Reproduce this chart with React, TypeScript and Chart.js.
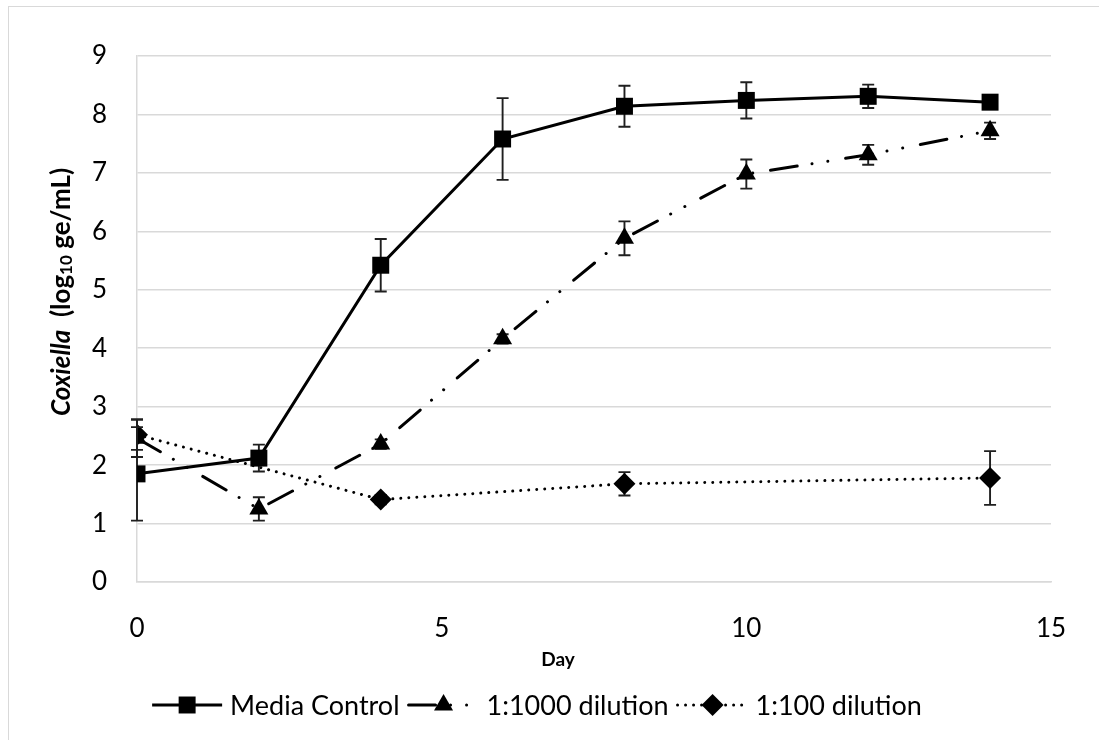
import React, { useEffect, useRef } from "react";
import { Chart, registerables } from "chart.js";

Chart.register(...registerables);

const days = [0, 2, 4, 6, 8, 10, 12, 14];
const mediaControl = [1.85, 2.12, 5.42, 7.58, 8.14, 8.24, 8.31, 8.21];
const mediaControlErr = [0.8, 0.23, 0.45, 0.7, 0.35, 0.31, 0.2, 0.04];
const dil1000 = [2.46, 1.25, 2.36, 4.16, 5.88, 6.98, 7.31, 7.72];
const dil1000Err = [0.32, 0.2, 0.08, 0.08, 0.29, 0.25, 0.17, 0.14];
const dil100Days = [0, 4, 8, 14];
const dil100 = [2.52, 1.41, 1.68, 1.78];
const dil100Err = [0.26, 0.08, 0.2, 0.46];
const seriesLabels = ["Media Control", "1:1000 dilution", "1:100 dilution"];
const xTitle = "Day";
const yTitleItalic = "Coxiella";
const yTitleRest = ["  (log", "10", " ge/mL)"];

const FONT = "Lato";

function toPoints(xs: number[], ys: number[]) {
  return xs.map((x, i) => ({ x, y: ys[i] }));
}

function drawMarker(ctx: CanvasRenderingContext2D, style: string, x: number, y: number, r: number) {
  ctx.beginPath();
  if (style === "rect") {
    const s = Math.SQRT1_2 * r;
    ctx.rect(x - s, y - s, 2 * s, 2 * s);
  } else if (style === "triangle") {
    ctx.moveTo(x, y - r);
    ctx.lineTo(x + 0.866 * r, y + 0.5 * r);
    ctx.lineTo(x - 0.866 * r, y + 0.5 * r);
    ctx.closePath();
  } else {
    ctx.moveTo(x - r, y);
    ctx.lineTo(x, y - r);
    ctx.lineTo(x + r, y);
    ctx.lineTo(x, y + r);
    ctx.closePath();
  }
  ctx.fill();
}

const errorBarPlugin = {
  id: "errorBars",
  beforeDatasetDraw(chart: any, args: any) {
    const ds = chart.data.datasets[args.index];
    const errs: number[] = ds.errors;
    if (!errs) return;
    const ctx = chart.ctx;
    const xs = chart.scales.x;
    const ys = chart.scales.y;
    ctx.save();
    ctx.strokeStyle = "#1f1f1f";
    ctx.lineWidth = 1.9;
    ds.data.forEach((p: any, i: number) => {
      const e = errs[i];
      if (!e) return;
      const px = xs.getPixelForValue(p.x);
      const top = ys.getPixelForValue(p.y + e);
      const bot = ys.getPixelForValue(p.y - e);
      ctx.beginPath();
      ctx.moveTo(px, top);
      ctx.lineTo(px, bot);
      ctx.moveTo(px - 6, top);
      ctx.lineTo(px + 6, top);
      ctx.moveTo(px - 6, bot);
      ctx.lineTo(px + 6, bot);
      ctx.stroke();
    });
    ctx.restore();
  },
};

const decorPlugin = {
  id: "decor",
  afterDraw(chart: any) {
    const ctx = chart.ctx;
    const area = chart.chartArea;
    ctx.save();
    // x title
    ctx.fillStyle = "#000";
    ctx.font = `bold 19px ${FONT}`;
    ctx.textAlign = "center";
    ctx.textBaseline = "middle";
    ctx.fillText(xTitle, area.left + 421, area.bottom + 78);

    // y title (rotated, mixed fonts)
    const bigFont = `bold 26px ${FONT}`;
    const itFont = `italic bold 26px ${FONT}`;
    const subFont = `bold 17px ${FONT}`;
    const parts = [
      { t: yTitleItalic, f: itFont, dy: 0 },
      { t: yTitleRest[0], f: bigFont, dy: 0 },
      { t: yTitleRest[1], f: subFont, dy: 5 },
      { t: yTitleRest[2], f: bigFont, dy: 0 },
    ];
    let total = 0;
    const widths = parts.map((p) => {
      ctx.font = p.f;
      const w = ctx.measureText(p.t).width;
      total += w;
      return w;
    });
    ctx.translate(53, area.top + 236);
    ctx.rotate(-Math.PI / 2);
    ctx.textAlign = "left";
    ctx.textBaseline = "middle";
    let cx = -total / 2;
    parts.forEach((p, i) => {
      ctx.font = p.f;
      ctx.fillText(p.t, cx, p.dy);
      cx += widths[i];
    });
    ctx.restore();

    // legend
    ctx.save();
    ctx.font = `27px ${FONT}`;
    ctx.textBaseline = "middle";
    ctx.textAlign = "left";
    const sampleLen = 70;
    const gapSampleText = 8;
    const gapItems = 9;
    const items = chart.data.datasets.map((ds: any) => ({
      ds,
      w: sampleLen + gapSampleText + ctx.measureText(ds.label).width,
    }));
    const totalW = items.reduce((a: number, b: any) => a + b.w, 0) + gapItems * (items.length - 1);
    let lx = 528 - totalW / 2;
    const ly = area.bottom + 123;
    items.forEach((it: any) => {
      const ds = it.ds;
      ctx.save();
      ctx.strokeStyle = ds.borderColor;
      ctx.lineWidth = ds.borderWidth;
      ctx.lineCap = ds.borderCapStyle || "butt";
      ctx.setLineDash(ds.borderDash || []);
      ctx.beginPath();
      ctx.moveTo(lx, ly);
      ctx.lineTo(lx + sampleLen, ly);
      ctx.stroke();
      ctx.restore();
      ctx.fillStyle = "#000";
      drawMarker(ctx, ds.pointStyle, lx + sampleLen / 2, ly, ds.pointRadius);
      ctx.fillStyle = "#000";
      ctx.fillText(ds.label, lx + sampleLen + gapSampleText, ly + 1);
      lx += it.w + gapItems;
    });
    ctx.restore();
  },
};

export default function App() {
  const ref = useRef<HTMLCanvasElement | null>(null);
  useEffect(() => {
    if (!ref.current) return;
    const chart = new Chart(ref.current, {
      type: "scatter",
      data: {
        datasets: [
          {
            label: seriesLabels[0],
            data: toPoints(days, mediaControl),
            errors: mediaControlErr,
            showLine: true,
            borderColor: "#000",
            backgroundColor: "#000",
            borderWidth: 3,
            pointStyle: "rect",
            pointRadius: 12,
            pointBorderWidth: 0,
            borderCapStyle: "butt",
          } as any,
          {
            label: seriesLabels[1],
            data: toPoints(days, dil1000),
            errors: dil1000Err,
            showLine: true,
            borderColor: "#000",
            backgroundColor: "#000",
            borderWidth: 3,
            borderDash: [27, 15, 0.01, 16, 0.01, 18],
            borderCapStyle: "round",
            pointStyle: "triangle",
            pointRadius: 11,
            pointBorderWidth: 0,
          } as any,
          {
            label: seriesLabels[2],
            data: toPoints(dil100Days, dil100),
            errors: dil100Err,
            showLine: true,
            borderColor: "#000",
            backgroundColor: "#000",
            borderWidth: 3,
            borderDash: [0.01, 8],
            borderCapStyle: "round",
            pointStyle: "rectRot",
            pointRadius: 11,
            pointBorderWidth: 0,
          } as any,
        ],
      },
      options: {
        responsive: false,
        animation: false,
        layout: { padding: { top: 49, right: 49, left: 0, bottom: 0 } },
        plugins: {
          legend: { display: false },
          tooltip: { enabled: false },
        },
        scales: {
          x: {
            type: "linear",
            min: 0,
            max: 15,
            ticks: {
              stepSize: 5,
              padding: 31,
              color: "#000",
              font: { family: FONT, size: 26 },
              maxRotation: 0,
            },
            grid: { display: false, drawTicks: false },
            border: { display: true, color: "#d9d9d9", width: 1.5 },
            afterFit: (s: any) => {
              s.height = 159;
            },
          },
          y: {
            type: "linear",
            min: 0,
            max: 9,
            ticks: {
              stepSize: 1,
              padding: 30,
              color: "#000",
              font: { family: FONT, size: 26 },
            },
            grid: { color: "#d9d9d9", lineWidth: 1.5, drawTicks: false },
            border: { display: true, color: "#d9d9d9", width: 1.5 },
            afterFit: (s: any) => {
              s.width = 128;
            },
          },
        },
      } as any,
      plugins: [errorBarPlugin, decorPlugin],
    });
    return () => chart.destroy();
  }, []);

  return (
    <div
      style={{
        position: "fixed",
        left: 8,
        top: 6,
        borderLeft: "1px solid #d9d9d9",
        borderTop: "1px solid #d9d9d9",
        background: "#fff",
      }}
    >
      <canvas ref={ref} width={1091} height={734} style={{ display: "block" }} />
    </div>
  );
}
